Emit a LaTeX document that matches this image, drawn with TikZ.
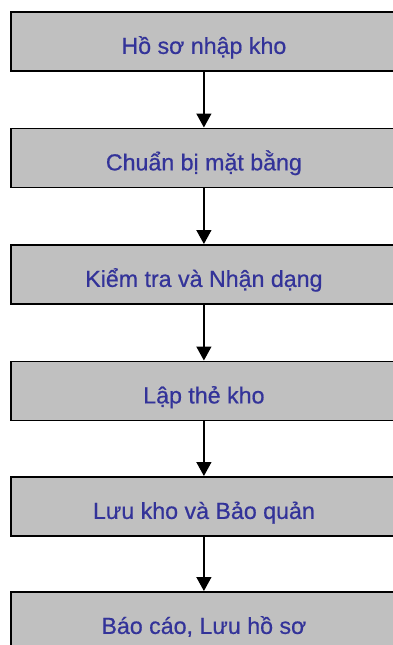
\documentclass[tikz,border=0pt]{standalone}
\usepackage{fontspec}
\setmainfont{Liberation Sans}[FakeBold=0.6]
\newfontfamily\boxfont{Liberation Sans}[FakeBold=0.6]
\usetikzlibrary{arrows.meta}
\definecolor{boxgray}{HTML}{C0C0C0}
\definecolor{txtblue}{HTML}{333399}
\tikzset{
  stepbox/.style={draw=black, line width=1.8pt, fill=boxgray, minimum width=386pt, minimum height=59pt, inner sep=0pt, text height=25pt, text depth=0pt, anchor=north west, text=txtblue, font=\fontsize{23.2pt}{26pt}\selectfont},
  flow/.style={line width=1.4pt, -{Triangle[width=15pt,length=14pt]}}
}
\begin{document}
\begin{tikzpicture}[x=1pt,y=1pt]
\clip (0,0) rectangle (393,-645);
\fill[white] (0,0) rectangle (393,-645);
\node[stepbox] (b1) at (10,-11) {Hồ sơ nhập kho};
\node[stepbox] (b2) at (10,-127.5) {Chuẩn bị mặt bằng};
\node[stepbox] (b3) at (10,-244) {Kiểm tra và Nhận dạng};
\node[stepbox] (b4) at (10,-360.5) {Lập thẻ kho};
\node[stepbox] (b5) at (10,-476) {Lưu kho và Bảo quản};
\node[stepbox] (b6) at (10,-591) {Báo cáo, Lưu hồ sơ};
\draw[flow] (b1.south) -- (b2.north);
\draw[flow] (b2.south) -- (b3.north);
\draw[flow] (b3.south) -- (b4.north);
\draw[flow] (b4.south) -- (b5.north);
\draw[flow] (b5.south) -- (b6.north);
\end{tikzpicture}
\end{document}
